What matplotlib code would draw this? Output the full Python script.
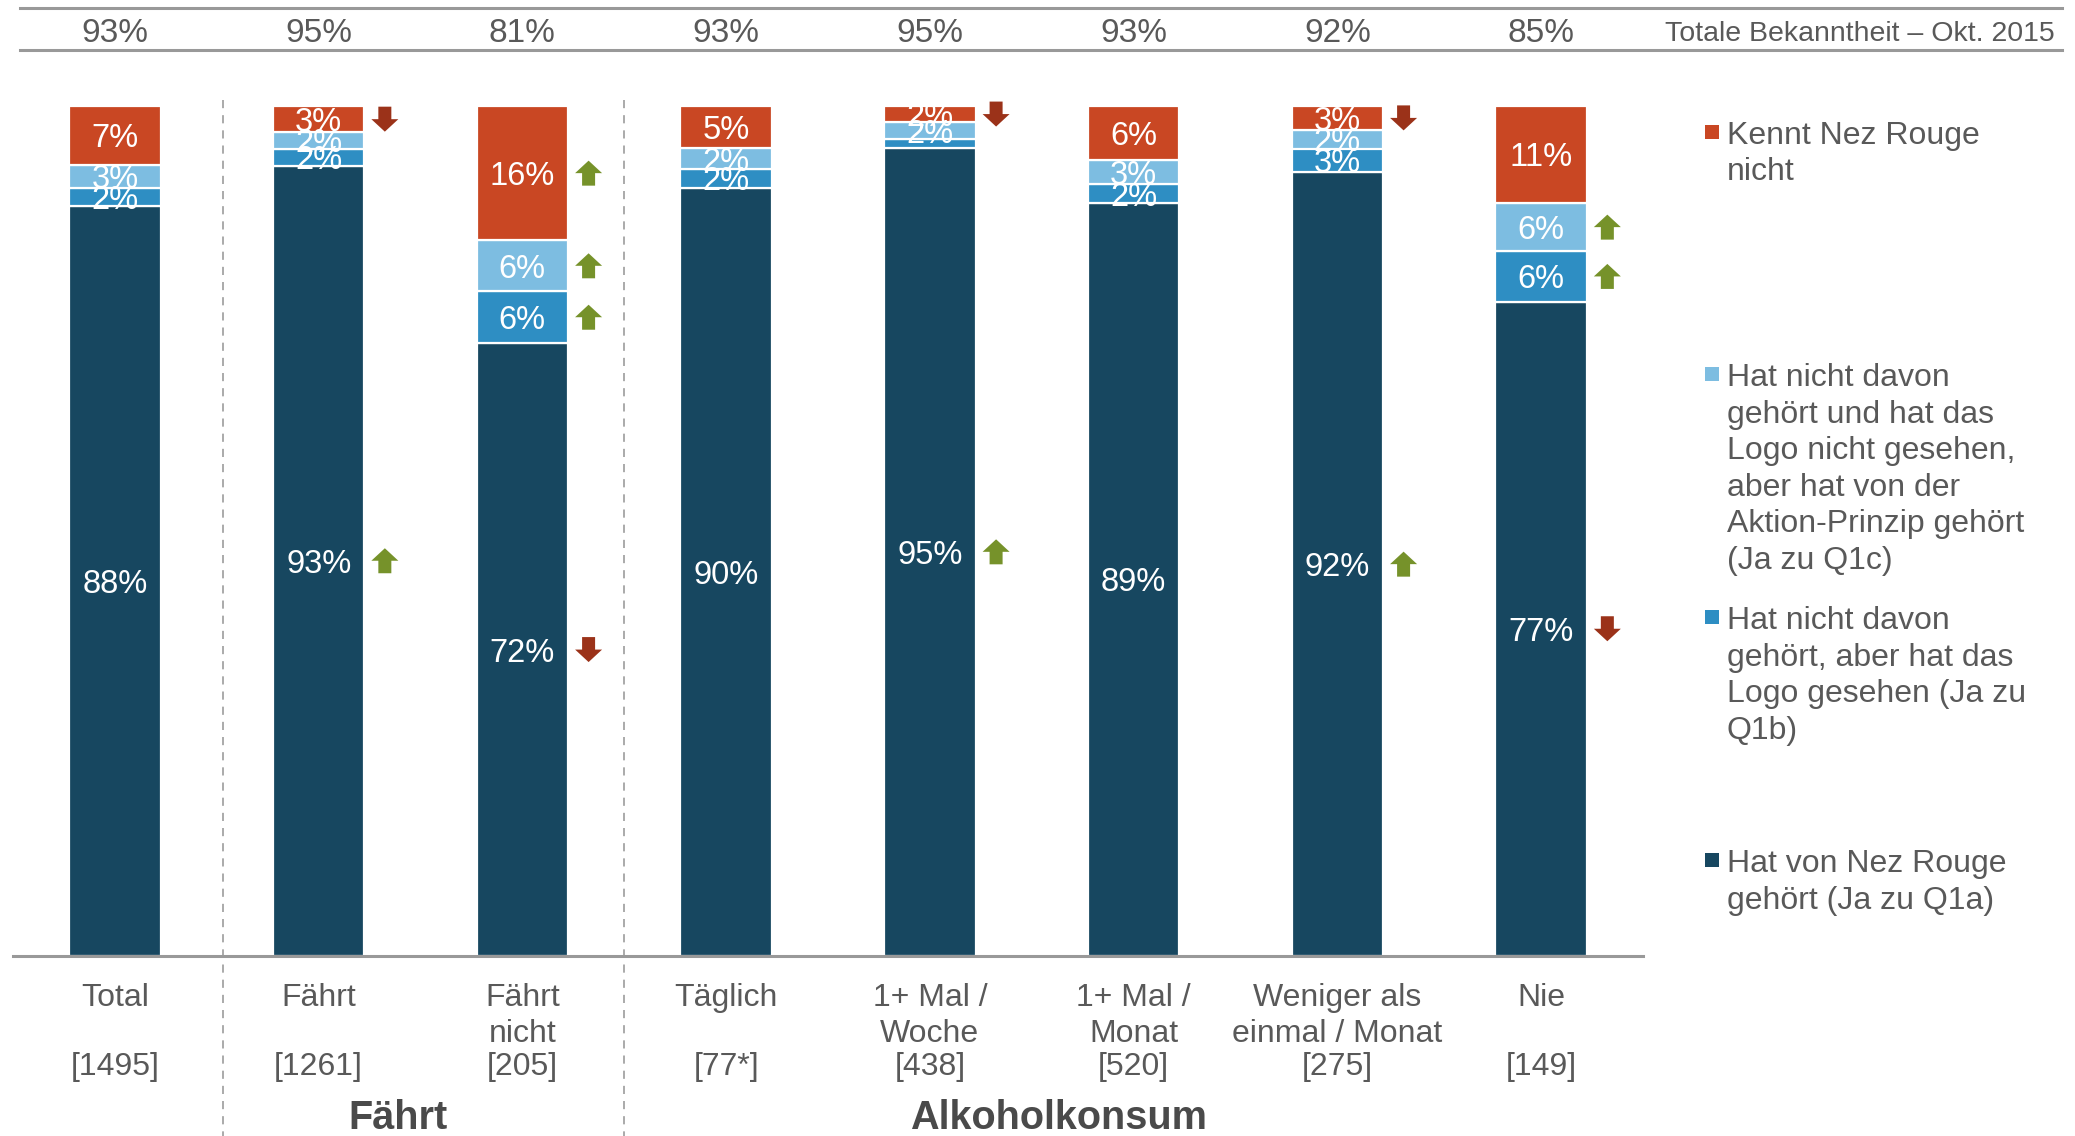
import matplotlib
matplotlib.use("Agg")
import matplotlib.pyplot as plt
import matplotlib.transforms as mtransforms
from matplotlib.lines import Line2D
from matplotlib.patches import Polygon, Rectangle
import numpy as np

plt.rcParams['font.family'] = ['Liberation Sans', 'DejaVu Sans']

# ---------------- data ----------------
categories = ["Total", "Fährt", "Fährt\nnicht", "Täglich", "1+ Mal /\nWoche",
              "1+ Mal /\nMonat", "Weniger als\neinmal / Monat", "Nie"]
sample_sizes = ["[1495]", "[1261]", "[205]", "[77*]", "[438]", "[520]", "[275]", "[149]"]
totals_2015 = [93, 95, 81, 93, 95, 93, 92, 85]

q1a_heard = [88.2, 93.0, 72.1, 90.4, 95.1, 88.6, 92.2, 77.0]
q1b_logo = [2.2, 2.0, 6.1, 2.2, 1.0, 2.2, 2.8, 5.9]
q1c_principle = [2.7, 1.9, 6.0, 2.4, 2.0, 2.8, 2.2, 5.7]
unknown = [6.9, 3.1, 15.8, 5.0, 1.9, 6.4, 2.8, 11.4]

# significance arrows: +1 up, -1 down, 0 none
sig_q1a = [0, 1, -1, 0, 1, 0, 1, -1]
sig_q1b = [0, 0, 1, 0, 0, 0, 0, 1]
sig_q1c = [0, 0, 1, 0, 0, 0, 0, 1]
sig_unknown = [0, -1, 1, 0, -1, 0, -1, 0]

groups = ["Fährt", "Alkoholkonsum"]
group_pos = [1.39, 4.63]
separators = [0.53, 2.5]

legend_labels = [
    "Kennt Nez Rouge\nnicht",
    "Hat nicht davon\ngehört und hat das\nLogo nicht gesehen,\naber hat von der\nAktion-Prinzip gehört\n(Ja zu Q1c)",
    "Hat nicht davon\ngehört, aber hat das\nLogo gesehen (Ja zu\nQ1b)",
    "Hat von Nez Rouge\ngehört (Ja zu Q1a)",
]
header_label = "Totale Bekanntheit – Okt. 2015"

# ---------------- style ----------------
C_DARK = "#174760"
C_MID = "#2E8EC3"
C_LIGHT = "#7DBDE1"
C_RED = "#C94723"
C_UP = "#76922A"
C_DOWN = "#9B3219"
C_TEXT = "#595959"
C_LINE = "#999999"
LINE_PX = 36.5  # baseline-to-baseline distance of wrapped text, in pixels

W, H = 2075, 1136
fig = plt.figure(figsize=(W / 100, H / 100), dpi=100)
ax = fig.add_axes([13 / W, 180 / H, 1630 / W, 850 / H])
ax.set_xlim(-0.5, 7.5)
ax.set_ylim(0, 100)
for s in ["top", "left", "right"]:
    ax.spines[s].set_visible(False)
ax.spines["bottom"].set_color(C_LINE)
ax.spines["bottom"].set_linewidth(2.2)
ax.set_xticks([])
ax.set_yticks([])

x = np.arange(len(categories))
series = [(q1a_heard, C_DARK, sig_q1a), (q1b_logo, C_MID, sig_q1b),
          (q1c_principle, C_LIGHT, sig_q1c), (unknown, C_RED, sig_unknown)]

bottom = np.zeros(len(categories))
fs = 23.5
for vals, col, sig in series:
    vals = np.array(vals)
    ax.bar(x, vals, 0.45, bottom=bottom, color=col, edgecolor="white", linewidth=1.6, zorder=2)
    centers = bottom + vals / 2
    for xi, v, c, sg in zip(x, vals, centers, sig):
        if round(v) >= 2:
            t = ax.text(xi, c, f"{round(v)}%", ha="center", va="center_baseline",
                        color="white", fontsize=fs, zorder=3)
            t.set_clip_on(True)
        if sg != 0:
            d = sg
            verts = np.array([(0, 12.5 * d), (13.5, 0), (6.5, 0), (6.5, -12.5 * d),
                              (-6.5, -12.5 * d), (-6.5, 0), (-13.5, 0)]) / 100.0
            tr = fig.dpi_scale_trans + mtransforms.ScaledTranslation(xi + 0.325, c, ax.transData)
            p = Polygon(verts, closed=True, transform=tr, facecolor=C_UP if d > 0 else C_DOWN,
                        edgecolor="none", clip_on=False, zorder=4)
            fig.add_artist(p)
    bottom = bottom + vals

blend = mtransforms.blended_transform_factory(ax.transData, fig.transFigure)


def last_baseline(first_px, text):
    n = text.count("\n")
    return 1 - (first_px + n * LINE_PX) / H


# header
for yy in [8, 50]:
    fig.add_artist(Line2D([20 / W, 2062 / W], [1 - yy / H, 1 - yy / H], transform=fig.transFigure,
                          color=C_LINE, lw=2.2))
for xi, tv in zip(x, totals_2015):
    ax.text(xi, 1 - 42 / H, f"{tv}%", ha="center", va="baseline", fontsize=24,
            color=C_TEXT, transform=blend)
fig.text(2055 / W, 1 - 41 / H, header_label, ha="right", va="baseline", fontsize=20.5, color=C_TEXT)

# separators
for sx in separators:
    ax.add_artist(Line2D([sx, sx], [1 - 100 / H, 0], transform=blend, color="#AAAAAA",
                         lw=1.4, dashes=(4.2, 3.6), clip_on=False))

# category labels
for xi, cat, n in zip(x, categories, sample_sizes):
    ax.text(xi, last_baseline(1006, cat), cat, ha="center", va="baseline", fontsize=23,
            color=C_TEXT, transform=blend, linespacing=1.28)
    ax.text(xi, 1 - 1075 / H, n, ha="center", va="baseline", fontsize=23, color=C_TEXT,
            transform=blend)
for gp, g in zip(group_pos, groups):
    ax.text(gp, 1 - 1129 / H, g, ha="center", va="baseline", fontsize=28.5, fontweight="bold",
            color="#4A4A4A", transform=blend)

# legend
leg_cols = [C_RED, C_LIGHT, C_MID, C_DARK]
leg_center = [132, 374, 617, 860]
for lab, col, cy in zip(legend_labels, leg_cols, leg_center):
    fig.add_artist(Rectangle((1705 / W, 1 - (cy + 7) / H), 14 / W, 14 / H,
                             transform=fig.transFigure, facecolor=col, edgecolor="none"))
    fig.text(1727 / W, last_baseline(cy + 12, lab), lab, ha="left", va="baseline", fontsize=23,
             color=C_TEXT, linespacing=1.28)

fig.savefig("out.png", dpi=100)
